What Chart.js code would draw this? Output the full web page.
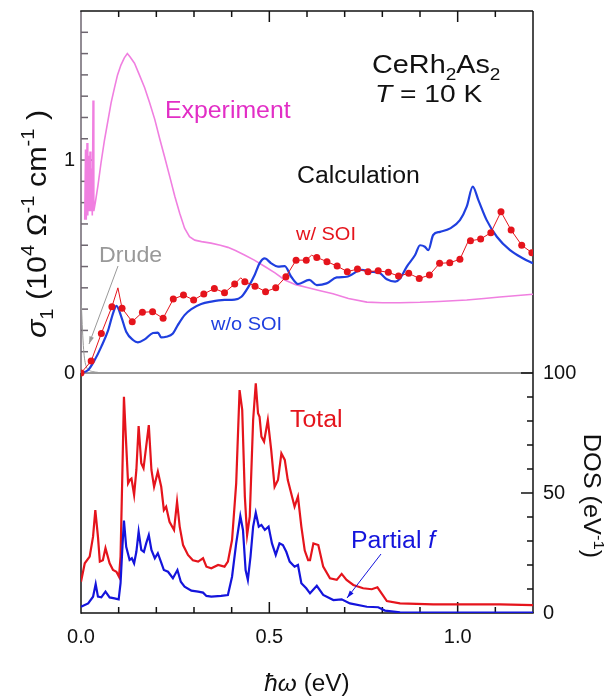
<!DOCTYPE html>
<html>
<head>
<meta charset="utf-8">
<script src="https://cdn.jsdelivr.net/npm/chart.js@4.4.1/dist/chart.umd.min.js"></script>
<style>
  html, body { margin: 0; padding: 0; background: #fff; }
  #c { display: block; }
</style>
</head>
<body>
<canvas id="c" width="616" height="696"></canvas>
<script>
// energy axis in eV, sigma_1 in 10^4 / (Ohm cm), DOS in 1/eV
const xTickLabels = ['0.0', '0.5', '1.0'];
const sigmaTickLabels = ['0', '1'];
const dosTickLabels = ['0', '50', '100'];

const expX = [0.010, 0.012, 0.014, 0.016, 0.018, 0.020, 0.022, 0.024, 0.026, 0.028, 0.030, 0.032, 0.034, 0.038, 0.045, 0.053, 0.062, 0.072, 0.080, 0.089, 0.097, 0.106, 0.115, 0.123, 0.130, 0.142, 0.155, 0.169, 0.182, 0.196, 0.209, 0.222, 0.236, 0.249, 0.262, 0.275, 0.288, 0.302, 0.320, 0.345, 0.370, 0.390, 0.410, 0.434, 0.460, 0.488, 0.515, 0.541, 0.570, 0.603, 0.635, 0.669, 0.710, 0.759, 0.800, 0.847, 0.900, 0.950, 1.024, 1.070, 1.112, 1.160, 1.200];
const expY = [0.72, 1.05, 0.72, 1.08, 0.74, 1.02, 0.76, 1.04, 0.76, 0.96, 0.74, 1.28, 0.76, 0.80, 0.88, 0.985, 1.09, 1.19, 1.27, 1.34, 1.40, 1.446, 1.48, 1.50, 1.485, 1.455, 1.40, 1.34, 1.27, 1.19, 1.10, 1.014, 0.92, 0.83, 0.75, 0.68, 0.64, 0.624, 0.617, 0.61, 0.60, 0.59, 0.575, 0.554, 0.53, 0.50, 0.47, 0.437, 0.415, 0.40, 0.386, 0.372, 0.35, 0.333, 0.330, 0.330, 0.332, 0.336, 0.343, 0.35, 0.357, 0.364, 0.37];

const drudeX = [0.001, 0.004, 0.007, 0.010, 0.014, 0.020, 0.030, 0.045];
const drudeY = [0.32, 0.20, 0.11, 0.06, 0.03, 0.015, 0.007, 0.003];

const noSoiX = [0.000, 0.019, 0.036, 0.054, 0.072, 0.085, 0.094, 0.107, 0.120, 0.138, 0.151, 0.169, 0.191, 0.204, 0.213, 0.226, 0.244, 0.257, 0.275, 0.293, 0.319, 0.346, 0.381, 0.408, 0.426, 0.443, 0.461, 0.474, 0.488, 0.505, 0.523, 0.541, 0.558, 0.576, 0.606, 0.626, 0.652, 0.679, 0.705, 0.745, 0.767, 0.794, 0.812, 0.834, 0.847, 0.865, 0.887, 0.900, 0.913, 0.922, 0.935, 0.953, 0.980, 1.006, 1.024, 1.040, 1.055, 1.077, 1.104, 1.139, 1.174, 1.200];
const noSoiY = [0.000, 0.014, 0.060, 0.124, 0.200, 0.280, 0.315, 0.264, 0.194, 0.155, 0.144, 0.158, 0.188, 0.190, 0.167, 0.170, 0.186, 0.225, 0.272, 0.300, 0.324, 0.335, 0.343, 0.345, 0.358, 0.400, 0.460, 0.515, 0.538, 0.515, 0.500, 0.502, 0.452, 0.418, 0.437, 0.413, 0.421, 0.449, 0.452, 0.484, 0.476, 0.468, 0.440, 0.429, 0.444, 0.500, 0.554, 0.600, 0.593, 0.577, 0.648, 0.663, 0.679, 0.718, 0.781, 0.875, 0.812, 0.718, 0.640, 0.577, 0.538, 0.515];

// w/ SOI: calculated points (dots) plus the extra features of the thin line between them
const soiX = [0.000, 0.027, 0.054, 0.082, 0.109, 0.136, 0.163, 0.190, 0.218, 0.245, 0.272, 0.299, 0.326, 0.354, 0.381, 0.408, 0.435, 0.462, 0.490, 0.517, 0.544, 0.571, 0.598, 0.626, 0.653, 0.680, 0.707, 0.734, 0.762, 0.789, 0.816, 0.843, 0.870, 0.898, 0.925, 0.952, 0.979, 1.006, 1.034, 1.061, 1.088, 1.115, 1.142, 1.170, 1.197];
const soiY = [0.000, 0.056, 0.186, 0.311, 0.304, 0.241, 0.285, 0.288, 0.257, 0.347, 0.366, 0.343, 0.371, 0.397, 0.377, 0.418, 0.429, 0.408, 0.382, 0.400, 0.452, 0.530, 0.530, 0.543, 0.523, 0.502, 0.476, 0.488, 0.476, 0.480, 0.473, 0.455, 0.468, 0.444, 0.460, 0.515, 0.518, 0.534, 0.621, 0.629, 0.659, 0.757, 0.671, 0.600, 0.565];
const soiExtraX = [0.098, 0.424, 0.612, 1.027];
const soiExtraY = [0.400, 0.447, 0.553, 0.615];

const totalX = [0.000, 0.010, 0.023, 0.032, 0.038, 0.045, 0.050, 0.058, 0.065, 0.076, 0.085, 0.094, 0.101, 0.105, 0.110, 0.114, 0.119, 0.125, 0.130, 0.134, 0.141, 0.147, 0.153, 0.160, 0.166, 0.173, 0.180, 0.187, 0.194, 0.204, 0.213, 0.220, 0.226, 0.235, 0.247, 0.255, 0.262, 0.271, 0.284, 0.297, 0.311, 0.324, 0.333, 0.346, 0.364, 0.381, 0.390, 0.401, 0.412, 0.421, 0.428, 0.435, 0.441, 0.448, 0.457, 0.464, 0.470, 0.474, 0.479, 0.486, 0.496, 0.505, 0.514, 0.523, 0.532, 0.541, 0.549, 0.558, 0.567, 0.576, 0.585, 0.594, 0.603, 0.608, 0.617, 0.630, 0.643, 0.661, 0.679, 0.692, 0.705, 0.723, 0.749, 0.772, 0.787, 0.798, 0.812, 0.847, 0.935, 1.024, 1.112, 1.200];
const totalY = [13.0, 20.7, 23.5, 31.8, 42.9, 31.8, 21.4, 22.0, 27.0, 20.7, 17.9, 17.2, 15.1, 23.5, 59.6, 90.1, 73.5, 54.0, 55.5, 56.0, 49.2, 59.6, 77.9, 62.4, 60.3, 69.3, 78.3, 59.6, 52.6, 58.9, 52.6, 42.9, 44.3, 38.0, 34.6, 46.4, 36.0, 28.3, 24.2, 22.0, 21.4, 22.8, 19.3, 18.6, 20.0, 19.3, 21.4, 30.4, 54.0, 92.9, 84.6, 48.5, 32.5, 40.1, 80.4, 95.7, 83.2, 81.8, 73.5, 71.4, 80.4, 67.9, 52.6, 55.4, 66.5, 63.8, 55.4, 49.9, 44.3, 48.5, 36.0, 26.0, 22.0, 22.0, 29.0, 28.3, 19.3, 14.5, 13.8, 16.3, 13.8, 11.7, 10.3, 9.9, 10.7, 8.2, 5.0, 4.0, 3.6, 3.6, 3.6, 3.3];

const partialX = [0.000, 0.019, 0.032, 0.039, 0.045, 0.054, 0.065, 0.076, 0.089, 0.100, 0.105, 0.110, 0.114, 0.120, 0.129, 0.135, 0.141, 0.147, 0.153, 0.160, 0.167, 0.173, 0.180, 0.187, 0.196, 0.204, 0.213, 0.220, 0.231, 0.244, 0.256, 0.265, 0.275, 0.293, 0.311, 0.324, 0.333, 0.346, 0.372, 0.390, 0.401, 0.412, 0.423, 0.430, 0.437, 0.443, 0.450, 0.457, 0.464, 0.472, 0.479, 0.488, 0.498, 0.507, 0.517, 0.527, 0.536, 0.545, 0.554, 0.567, 0.576, 0.585, 0.598, 0.608, 0.626, 0.643, 0.670, 0.692, 0.714, 0.759, 0.789, 0.807, 0.847, 1.000, 1.200];
const partialY = [2.6, 4.0, 6.8, 12.1, 6.8, 6.5, 8.9, 6.5, 6.1, 5.7, 12.4, 27.6, 38.5, 27.6, 22.1, 22.8, 20.7, 25.5, 33.9, 26.3, 25.5, 29.0, 32.5, 26.3, 22.8, 24.9, 21.0, 17.9, 17.2, 14.5, 17.9, 13.0, 11.0, 9.3, 8.9, 8.5, 7.1, 6.8, 7.1, 7.5, 15.1, 29.0, 40.4, 34.6, 17.9, 13.8, 23.5, 36.0, 41.8, 36.0, 36.7, 34.6, 36.0, 29.0, 24.2, 29.0, 28.3, 25.5, 21.4, 19.3, 20.0, 12.4, 10.3, 8.2, 11.3, 7.5, 5.4, 5.7, 4.0, 2.6, 2.4, 1.0, 0.3, 0.2, 0.2];

const RED = '#e5141c';
const BLUE = '#1f3fdf';
const DBLUE = '#1414dc';
const PINK = '#f07fe0';
const FONT = '"Liberation Sans", Arial, sans-serif';

function pts(xs, ys) {
  return xs.map((x, i) => ({ x: x, y: ys[i] }));
}

const soiLine = pts(soiX, soiY).concat(pts(soiExtraX, soiExtraY)).sort((a, b) => a.x - b.x);

// draws a run of text pieces; kind is '', 'i', 'sub' or 'sup'
function rich(c, parts, size, color) {
  let cx = 0;
  for (const [t, k] of parts) {
    const small = k === 'sub' || k === 'sup';
    const s = small ? size * 0.66 : size;
    const dy = k === 'sub' ? size * 0.26 : (k === 'sup' ? -size * 0.45 : 0);
    c.font = (k === 'i' ? 'italic ' : '') + s + 'px ' + FONT;
    c.fillStyle = color;
    c.fillText(t, cx, dy);
    cx += c.measureText(t).width;
  }
  return cx;
}

function richWidth(c, parts, size) {
  let w = 0;
  for (const [t, k] of parts) {
    const s = (k === 'sub' || k === 'sup') ? size * 0.66 : size;
    c.font = (k === 'i' ? 'italic ' : '') + s + 'px ' + FONT;
    w += c.measureText(t).width;
  }
  return w;
}

function label(c, parts, x, y, size, color, sx) {
  c.save();
  c.translate(x, y);
  c.scale(sx || 1.08, 1);
  c.textBaseline = 'alphabetic';
  c.textAlign = 'left';
  rich(c, parts, size, color);
  c.restore();
}

function arrow(c, x1, y1, x2, y2, color) {
  const a = Math.atan2(y2 - y1, x2 - x1);
  c.save();
  c.strokeStyle = color;
  c.fillStyle = color;
  c.lineWidth = 1;
  c.beginPath();
  c.moveTo(x1, y1);
  c.lineTo(x2, y2);
  c.stroke();
  c.beginPath();
  c.moveTo(x2, y2);
  c.lineTo(x2 - 8 * Math.cos(a - 0.3), y2 - 8 * Math.sin(a - 0.3));
  c.lineTo(x2 - 8 * Math.cos(a + 0.3), y2 - 8 * Math.sin(a + 0.3));
  c.closePath();
  c.fill();
  c.restore();
}

function line(c, x1, y1, x2, y2) {
  c.beginPath();
  c.moveTo(x1, y1);
  c.lineTo(x2, y2);
  c.stroke();
}

const frame = {
  id: 'frame',
  beforeDatasetsDraw(ch) {
    const c = ch.ctx;
    const x = ch.scales.x, ys = ch.scales.ys, yd = ch.scales.yd;
    const L = x.getPixelForValue(0), R = x.getPixelForValue(1.2);
    const T = ys.getPixelForValue(1.7), M = ys.getPixelForValue(0), B = yd.getPixelForValue(0);
    c.save();
    c.lineCap = 'butt';
    // zero line of the upper panel
    c.strokeStyle = '#9a9a9a';
    c.lineWidth = 2;
    line(c, L, M, R, M);
    // upper panel left axis
    c.strokeStyle = '#6e6670';
    c.lineWidth = 1.5;
    line(c, L, T, L, M);
    for (let i = 1; i <= 16; i++) {
      const py = ys.getPixelForValue(i / 10);
      line(c, L, py, L + (i === 10 ? 11 : 7), py);
    }
    c.strokeStyle = '#111';
    c.lineWidth = 1.5;
    line(c, L - 0.75, T, R, T);
    line(c, R, T, R, B);
    line(c, L, M, L, B + 0.75);
    line(c, L, B, R + 0.75, B);
    for (let i = 1; i <= 11; i++) {
      const px = x.getPixelForValue(i / 10);
      const len = i % 5 === 0 ? 11 : 6;
      line(c, px, T, px, T + len);
      line(c, px, B, px, B - len);
    }
    for (let i = 1; i <= 10; i++) {
      const py = yd.getPixelForValue(i * 10);
      line(c, R, py, R - (i % 5 === 0 ? 12 : 6), py);
    }
    c.restore();
  },
  afterDraw(ch) {
    const c = ch.ctx;
    c.save();
    label(c, [['CeRh', ''], ['2', 'sub'], ['As', ''], ['2', 'sub']], 372, 73, 25.5, '#111', 1.13);
    label(c, [['T', 'i'], [' = 10 K', '']], 375, 102, 24.5, '#111', 1.15);
    label(c, [['Experiment', '']], 165, 118, 23, '#e22ec6');
    label(c, [['Calculation', '']], 297, 183, 23, '#111');
    label(c, [['w/ SOI', '']], 296, 240, 18.5, RED);
    label(c, [['w/o SOI', '']], 211, 330, 18.5, BLUE);
    label(c, [['Drude', '']], 99, 262, 21.5, '#999');
    label(c, [['Total', '']], 290, 427, 23, RED);
    label(c, [['Partial ', ''], ['f', 'i']], 351, 548, 23, DBLUE);
    arrow(c, 118, 266, 89, 344, '#999');
    arrow(c, 381, 554, 347, 598, DBLUE);

    // axis titles
    const sig = [['σ', 'i'], ['1', 'sub'], [' (10', ''], ['4', 'sup'], [' Ω', ''], ['-1', 'sup'], [' cm', ''], ['-1', 'sup'], [' )', '']];
    c.save();
    c.translate(46, 224 + richWidth(c, sig, 27) * 1.13 / 2);
    c.rotate(-Math.PI / 2);
    c.scale(1.13, 1);
    rich(c, sig, 27, '#111');
    c.restore();

    const dos = [['DOS (eV', ''], ['-1', 'sup'], [')', '']];
    c.save();
    c.translate(584, 496 - richWidth(c, dos, 23) * 1.1 / 2);
    c.rotate(Math.PI / 2);
    c.scale(1.1, 1);
    rich(c, dos, 23, '#111');
    c.restore();

    const xt = [['ħω', 'i'], [' (eV)', '']];
    const w = richWidth(c, xt, 23) * 1.06;
    label(c, xt, 307 - w / 2, 691, 23, '#111', 1.06);
    c.restore();
  }
};

const fixTicks = (labels) => (s) => {
  s.ticks = labels.map((t) => ({ value: parseFloat(t) }));
};

// keep the plot box fixed: no extra room for the end labels
const noPad = (size) => (s) => {
  if (s.isHorizontal()) s.height = size; else s.width = size;
  s.paddingTop = 0;
  s.paddingBottom = 0;
  s.paddingLeft = 0;
  s.paddingRight = 0;
};

new Chart(document.getElementById('c'), {
  type: 'line',
  data: {
    datasets: [
      { data: pts(soiX, soiY), yAxisID: 'ys', showLine: false, pointRadius: 3.5, pointBackgroundColor: RED, pointBorderWidth: 0 },
      { data: soiLine, yAxisID: 'ys', borderColor: RED, borderWidth: 1, pointRadius: 0 },
      { data: pts(noSoiX, noSoiY), yAxisID: 'ys', borderColor: BLUE, borderWidth: 2.2, pointRadius: 0, cubicInterpolationMode: 'monotone' },
      { data: pts(expX, expY), yAxisID: 'ys', borderColor: PINK, borderWidth: 1.6, pointRadius: 0 },
      { data: pts(drudeX, drudeY), yAxisID: 'ys', borderColor: '#999', borderWidth: 1, pointRadius: 0, cubicInterpolationMode: 'monotone' },
      { data: pts(partialX, partialY), yAxisID: 'yd', borderColor: DBLUE, borderWidth: 2.2, pointRadius: 0 },
      { data: pts(totalX, totalY), yAxisID: 'yd', borderColor: RED, borderWidth: 2.2, pointRadius: 0 }
    ]
  },
  options: {
    responsive: false,
    animation: false,
    events: [],
    layout: { padding: { top: 11, left: 0, right: 0, bottom: 0 } },
    plugins: { legend: { display: false }, tooltip: { enabled: false } },
    scales: {
      x: {
        type: 'linear', min: 0, max: 1.2, position: 'bottom',
        afterBuildTicks: fixTicks(xTickLabels),
        afterFit: noPad(83),
        grid: { display: false, drawTicks: false },
        border: { display: false },
        ticks: { padding: 12, color: '#111', font: { family: FONT, size: 20 }, maxRotation: 0, callback: (v) => v.toFixed(1) }
      },
      ys: {
        type: 'linear', position: 'left', min: -1.127, max: 1.7,
        afterBuildTicks: fixTicks(sigmaTickLabels),
        afterFit: noPad(81),
        grid: { display: false, drawTicks: false },
        border: { display: false },
        ticks: { padding: 6, color: '#111', font: { family: FONT, size: 20 }, callback: (v) => String(v) }
      },
      yd: {
        type: 'linear', position: 'right', min: 0, max: 250.83,
        afterBuildTicks: fixTicks(dosTickLabels),
        afterFit: noPad(83),
        grid: { display: false, drawTicks: false },
        border: { display: false },
        ticks: { padding: 10, color: '#111', font: { family: FONT, size: 20 }, callback: (v) => String(v) }
      }
    }
  },
  plugins: [frame]
});
</script>
</body>
</html>
